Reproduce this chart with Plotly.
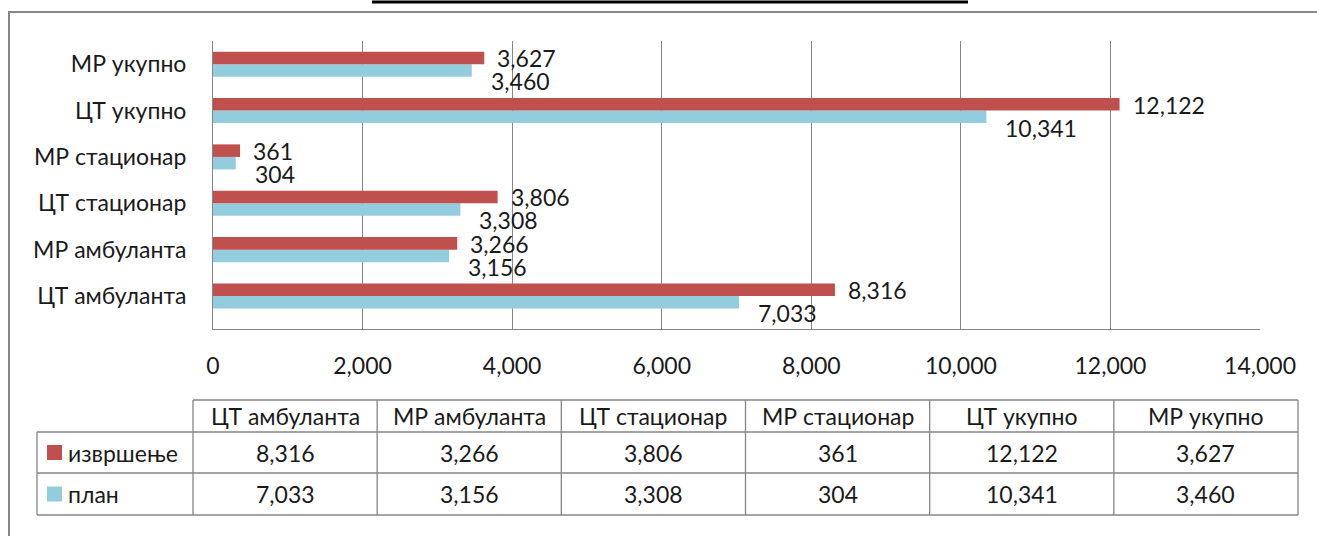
import plotly.graph_objects as go

# ---- data ----
categories = ["ЦТ амбуланта", "МР амбуланта", "ЦТ стационар", "МР стационар", "ЦТ укупно", "МР укупно"]
izvrsenje = [8316, 3266, 3806, 361, 12122, 3627]
plan = [7033, 3156, 3308, 304, 10341, 3460]
series_names = ["извршење", "план"]
x_ticks = [0, 2000, 4000, 6000, 8000, 10000, 12000, 14000]

RED = "#C0504D"
BLUE = "#93CDDD"
GRID = "#868686"
TXT = "#1a1a1a"
FONT = "Lato"
FS = 23

W, H = 1317, 536
# plot area in pixels
L, R, T, B = 213, 1260, 41, 329


def px(xpix):
    return (xpix - L) / (R - L)


def py(ypix):
    return (B - ypix) / (B - T)


fig = go.Figure()
fig.add_trace(go.Bar(y=categories, x=plan, orientation="h", name=series_names[1],
                     marker=dict(color=BLUE, line=dict(width=0)), showlegend=False,
                     hoverinfo="x+y"))
fig.add_trace(go.Bar(y=categories, x=izvrsenje, orientation="h", name=series_names[0],
                     marker=dict(color=RED, line=dict(width=0)), showlegend=False,
                     hoverinfo="x+y"))

annotations = []
# data labels
for cat, v in zip(categories, izvrsenje):
    annotations.append(dict(x=v, y=cat, xref="x", yref="y", text=f"{v:,}", showarrow=False,
                            xanchor="left", yanchor="middle", xshift=11, yshift=6,
                            font=dict(family=FONT, size=FS, color=TXT)))
for cat, v in zip(categories, plan):
    annotations.append(dict(x=v, y=cat, xref="x", yref="y", text=f"{v:,}", showarrow=False,
                            xanchor="left", yanchor="middle", xshift=17, yshift=-17,
                            font=dict(family=FONT, size=FS, color=TXT)))

shapes = []
# outer frame and top rule
shapes.append(dict(type="rect", xref="paper", yref="paper", x0=px(9), x1=px(1340), y0=py(12), y1=py(560),
                   line=dict(color=GRID, width=2), fillcolor="rgba(0,0,0,0)", layer="below"))
shapes.append(dict(type="line", xref="paper", yref="paper", x0=px(372), x1=px(968), y0=py(2), y1=py(2),
                   line=dict(color="black", width=3)))

# data table
col_edges = [193 + i * (1298 - 193) / 6 for i in range(7)]
row_edges = [400, 432, 473, 515]
leg_left = 37
tl = dict(color=GRID, width=1.3)
shapes.append(dict(type="line", xref="paper", yref="paper", x0=px(col_edges[0]), x1=px(col_edges[-1]),
                   y0=py(row_edges[0]), y1=py(row_edges[0]), line=tl))
for r in row_edges[1:]:
    shapes.append(dict(type="line", xref="paper", yref="paper", x0=px(leg_left), x1=px(col_edges[-1]),
                       y0=py(r), y1=py(r), line=tl))
shapes.append(dict(type="line", xref="paper", yref="paper", x0=px(leg_left), x1=px(leg_left),
                   y0=py(row_edges[1]), y1=py(row_edges[-1]), line=tl))
for c in col_edges:
    shapes.append(dict(type="line", xref="paper", yref="paper", x0=px(c), x1=px(c),
                       y0=py(row_edges[0]), y1=py(row_edges[-1]), line=tl))

for i, cat in enumerate(categories):
    cx = (col_edges[i] + col_edges[i + 1]) / 2
    cy = (row_edges[0] + row_edges[1]) / 2
    annotations.append(dict(x=px(cx), y=py(cy), xref="paper", yref="paper", text=cat, showarrow=False,
                            xanchor="center", yanchor="middle", font=dict(family=FONT, size=FS, color=TXT)))
for ri, (name, vals, col) in enumerate([(series_names[0], izvrsenje, RED), (series_names[1], plan, BLUE)]):
    cy = (row_edges[ri + 1] + row_edges[ri + 2]) / 2
    shapes.append(dict(type="rect", xref="paper", yref="paper", x0=px(47), x1=px(62),
                       y0=py(cy - 7.5), y1=py(cy + 7.5), line=dict(width=0), fillcolor=col))
    annotations.append(dict(x=px(66), y=py(cy), xref="paper", yref="paper", text=name, showarrow=False,
                            xanchor="left", yanchor="middle", font=dict(family=FONT, size=FS, color=TXT)))
    for i, v in enumerate(vals):
        cx = (col_edges[i] + col_edges[i + 1]) / 2
        annotations.append(dict(x=px(cx), y=py(cy), xref="paper", yref="paper", text=f"{v:,}",
                                showarrow=False, xanchor="center", yanchor="middle",
                                font=dict(family=FONT, size=FS, color=TXT)))

fig.update_layout(
    width=W, height=H,
    margin=dict(l=L, r=W - R, t=T, b=H - B),
    paper_bgcolor="white", plot_bgcolor="white",
    barmode="group", bargap=0.46, bargroupgap=0,
    font=dict(family=FONT, size=FS, color=TXT),
    annotations=annotations, shapes=shapes,
    xaxis=dict(range=[0, 14000], tickvals=x_ticks, tickformat=",", showgrid=True, gridcolor=GRID,
               gridwidth=1, showline=True, linecolor=GRID, linewidth=1, zeroline=False,
               ticks="", ticklabelstandoff=16, tickfont=dict(family=FONT, size=FS, color=TXT),
               fixedrange=True),
    yaxis=dict(categoryorder="array", categoryarray=categories, showgrid=False, showline=True,
               linecolor=GRID, linewidth=1, ticks="", ticklabelstandoff=21,
               tickfont=dict(family=FONT, size=FS, color=TXT), fixedrange=True),
)

fig.write_html("out.html", config={"displayModeBar": False},
               post_script="document.body.style.margin='0px';document.body.style.overflow='hidden';")
